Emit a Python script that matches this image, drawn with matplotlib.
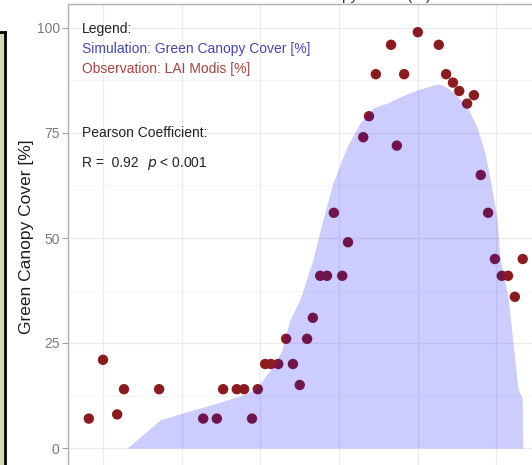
import matplotlib

matplotlib.use("Agg")
import matplotlib.pyplot as plt
from matplotlib.patches import Rectangle
from matplotlib.lines import Line2D
from matplotlib.ticker import MultipleLocator

plt.rcParams["font.family"] = ["Liberation Sans", "DejaVu Sans"]

# days since an (unlabelled) start date
sim_day = [4.6, 10.9, 15.1, 20.4, 26.7, 29.4, 30.9, 32.4, 34.1, 35.6, 37.5, 40.0,
           41.9, 43.8, 46.5, 49.0, 51.5, 54.1, 56.6, 59.8, 63.7, 64.8, 66.7, 69.4,
           71.3, 72.8, 74.1, 75.1, 75.7, 77.2, 79.1, 79.9, 80.0]
sim_gcc = [0.0, 6.7, 8.3, 10.2, 12.6, 14.3, 17.0, 19.3, 23.3, 30.5, 35.2, 44.8,
           54.3, 63.0, 71.7, 77.4, 81.0, 82.1, 83.6, 85.2, 86.7, 86.4, 84.8, 81.2,
           76.4, 70.2, 62.1, 54.3, 44.8, 36.0, 14.0, 12.0, 0.0]

obs_day = [-2.7, 0.0, 2.7, 4.0, 10.7, 19.1, 21.7, 22.9, 25.5, 26.9, 28.4, 29.5,
           30.9, 32.0, 33.4, 34.9, 36.2, 37.5, 38.9, 40.0, 41.4, 42.7, 44.0, 45.6,
           46.7, 49.6, 50.7, 52.0, 54.9, 56.0, 57.4, 60.0, 64.0, 65.4, 66.7, 67.9,
           69.4, 70.7, 72.0, 73.4, 74.7, 76.0, 77.2, 78.5, 80.0]
obs_lai = [7, 21, 8, 14, 14, 7, 7, 14, 14, 14, 7, 14,
           20, 20, 20, 26, 20, 15, 26, 31, 41, 41, 56, 41,
           49, 74, 79, 89, 96, 72, 89, 99, 96, 89, 87, 85,
           82, 84, 65, 56, 45, 41, 41, 36, 45]

y_ticks = [0, 25, 50, 75, 100]

W, H = 532, 465
fig = plt.figure(figsize=(W / 100, H / 100), dpi=100)

# left edge of the screenshot: a bit of another window
fig.patches.append(Rectangle((0, 0), 5 / W, 1 - 32 / H, transform=fig.transFigure,
                             facecolor="#d5d8b6", edgecolor="none"))
fig.lines.append(Line2D([5 / W, 5 / W], [0, 1 - 32 / H], transform=fig.transFigure,
                        color="black", linewidth=2))
fig.lines.append(Line2D([0, 5 / W], [1 - 32 / H, 1 - 32 / H], transform=fig.transFigure,
                        color="black", linewidth=2))

# panel runs past the right and bottom edges of the crop
px_per_day = 78.7 / 15
px_per_pct = 4.2
x0, x1 = -6.67, 85
y0, y1 = -5, 105.6
ax = fig.add_axes([68 / W, (H - 448 - (0 - y0) * px_per_pct) / H,
                   (x1 - x0) * px_per_day / W, (y1 - y0) * px_per_pct / H])
ax.set_xlim(x0, x1)
ax.set_ylim(y0, y1)

ax.scatter(obs_day, obs_lai, s=56, color="#8c1b1f", edgecolors="none", zorder=3)
ax.fill_between(sim_day, 0, sim_gcc, color="#0000ff", alpha=0.2, linewidth=0, zorder=4)

ax.xaxis.set_major_locator(MultipleLocator(15))
ax.yaxis.set_major_locator(MultipleLocator(25))
ax.yaxis.set_minor_locator(MultipleLocator(12.5))
ax.set_yticks(y_ticks)
ax.grid(True, which="major", color="#ebebeb", linewidth=0.9, zorder=0)
ax.grid(True, which="minor", axis="y", color="#f3f3f3", linewidth=0.6, zorder=0)
ax.set_axisbelow(True)
ax.tick_params(axis="y", which="major", length=4, color="#a0a0a0", labelcolor="#7a7a7a",
               labelsize=10, pad=2)
ax.tick_params(axis="y", which="minor", length=0)
ax.tick_params(axis="x", labelbottom=False, length=0)
for side in ["left", "top", "right", "bottom"]:
    ax.spines[side].set_color("#b0b0b0")
    ax.spines[side].set_linewidth(1.0)

ax.set_ylabel("Green Canopy Cover [%]", fontsize=12.5, color="#1e1e1e", labelpad=2)

# cut-off title at top of the crop
fig.text(345 / W, 1.0, "Green Canopy Cover (%)", fontsize=11, ha="center", va="baseline",
         color="#333333")


def ftext(px, py, s, **kw):
    fig.text(px / W, 1 - py / H, s, va="baseline", ha="left", fontsize=10, **kw)


ftext(82, 33, "Legend:", color="#222222")
ftext(82, 53, "Simulation: Green Canopy Cover [%]", color="#4545b5")
ftext(82, 73, "Observation: LAI Modis [%]", color="#a8423c")
ftext(82, 137, "Pearson Coefficient:", color="#222222")
ftext(82, 167, "R =  0.92", color="#222222")
ftext(147, 167, "$p$ < 0.001", color="#222222")

fig.savefig("out.png", dpi=100)
